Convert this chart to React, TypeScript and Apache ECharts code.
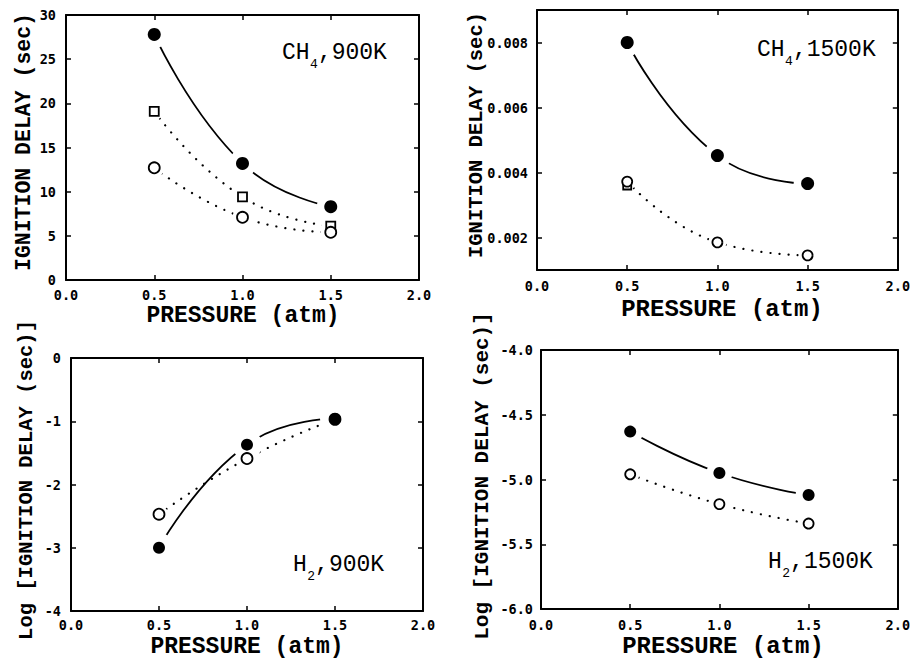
import React, { useEffect, useRef } from "react";
import * as echarts from "echarts";

// ---- data ----
const pressure = [0.5, 1.0, 1.5];
const xTicks = [0, 0.5, 1.0, 1.5, 2.0];

const ch4_900_closed = [27.8, 13.2, 8.3];
const ch4_900_square = [19.1, 9.4, 6.1];
const ch4_900_open = [12.7, 7.1, 5.4];

const ch4_1500_closed = [0.008, 0.00452, 0.00366];
const ch4_1500_open = [0.00372, 0.00185, 0.00145];
const ch4_1500_square = [0.0036, null, null];
const ch4_1500_yTicks = [0.002, 0.004, 0.006, 0.008];

const h2_900_closed = [-3.0, -1.37, -0.96];
const h2_900_open = [-2.47, -1.59, -0.97];

const h2_1500_closed = [-4.63, -4.95, -5.12];
const h2_1500_open = [-4.96, -5.19, -5.34];

const titles = [
  { main: "CH", sub: "4", rest: ",900K" },
  { main: "CH", sub: "4", rest: ",1500K" },
  { main: "H", sub: "2", rest: ",900K" },
  { main: "H", sub: "2", rest: ",1500K" },
];
const xName = "PRESSURE (atm)";
const yNames = [
  "IGNITION DELAY (sec)",
  "IGNITION DELAY (sec)",
  "Log [IGNITION DELAY (sec)]",
  "Log [IGNITION DELAY (sec)]",
];

// ---- layout ----
const grids = [
  { left: 66, top: 15, width: 353, height: 265 },
  { left: 537, top: 10, width: 361, height: 260 },
  { left: 71, top: 358, width: 352, height: 253 },
  { left: 541, top: 350, width: 357, height: 259 },
];
const yRanges = [
  { min: 0, max: 30, interval: 5, fmt: (v: number) => String(v), margin: 10 },
  { min: 0.001, max: 0.009, interval: 0.001, fmt: (v: number) => v.toFixed(3), margin: 9, custom: ch4_1500_yTicks },
  { min: -4, max: 0, interval: 1, fmt: (v: number) => String(v), margin: 10 },
  { min: -6, max: -4, interval: 0.5, fmt: (v: number) => v.toFixed(1), margin: 8 },
];
const xLabelMargin = [8, 9, 7, 9];
const titlePos = [
  { x: 282, y: 52.5, sy: 64, fs: 23 },
  { x: 757, y: 49.5, sy: 61, fs: 23 },
  { x: 293, y: 565, sy: 576, fs: 23 },
  { x: 768, y: 561.5, sy: 573, fs: 23 },
];
const xNamePos = [
  { x: 243, y: 315.5, fs: 23 },
  { x: 722, y: 309.5, fs: 24 },
  { x: 247, y: 646.5, fs: 23 },
  { x: 723, y: 646, fs: 24 },
];
const yNamePos = [
  { x: 24, y: 142, fs: 21.5 },
  { x: 476, y: 135, fs: 20.5 },
  { x: 26, y: 480, fs: 20.5 },
  { x: 482, y: 476, fs: 21 },
];

const MONO = "'Liberation Mono', 'DejaVu Sans Mono', monospace";
const TICKFONT = "'DejaVu Sans Mono', monospace";

function pairs(vals: (number | null)[]) {
  return pressure
    .map((p, i) => (vals[i] == null ? null : [p, vals[i]]))
    .filter((d) => d !== null);
}

function lineSeries(i: number, vals: (number | null)[], dotted: boolean) {
  return {
    type: "line",
    xAxisIndex: 2 * i,
    yAxisIndex: 2 * i,
    data: pairs(vals),
    showSymbol: false,
    smooth: 0.5,
    silent: true,
    z: 2,
    lineStyle: dotted
      ? { color: "#000", width: 2.2, type: [0.1, 9], cap: "round" }
      : { color: "#000", width: 1.8 },
  };
}

function haloSeries(i: number, vals: (number | null)[], size: number) {
  return {
    type: "scatter",
    xAxisIndex: 2 * i,
    yAxisIndex: 2 * i,
    data: pairs(vals),
    symbol: "circle",
    symbolSize: size,
    silent: true,
    z: 3,
    itemStyle: { color: "#fff", opacity: 1 },
  };
}

function markerSeries(
  i: number,
  vals: (number | null)[],
  symbol: string,
  filled: boolean,
  size: number,
  z: number
) {
  return {
    type: "scatter",
    xAxisIndex: 2 * i,
    yAxisIndex: 2 * i,
    data: pairs(vals),
    symbol,
    symbolSize: size,
    silent: true,
    z,
    itemStyle: filled
      ? { color: "#000", opacity: 1 }
      : { color: "#fff", borderColor: "#000", borderWidth: 1.8, opacity: 1 },
  };
}

export default function App() {
  const ref = useRef<HTMLDivElement>(null);

  useEffect(() => {
    if (!ref.current) return;
    const chart = echarts.init(ref.current, null, { renderer: "svg" });

    const axisLine = { show: true, onZero: false, lineStyle: { color: "#000", width: 2 } };
    const tick = { show: true, inside: true, length: 5, lineStyle: { color: "#000", width: 1.5 } };
    const xAxes: any[] = [];
    const yAxes: any[] = [];
    grids.forEach((_, i) => {
      const yr = yRanges[i];
      xAxes.push({
        type: "value",
        gridIndex: i,
        position: "bottom",
        min: xTicks[0],
        max: xTicks[xTicks.length - 1],
        interval: 0.5,
        axisLine,
        splitLine: { show: false },
        axisTick: tick,
        axisLabel: {
          color: "#000",
          fontFamily: TICKFONT,
          fontWeight: "bold",
          fontSize: 13.5,
          margin: xLabelMargin[i],
          formatter: (v: number) => v.toFixed(1),
        },
      });
      xAxes.push({
        type: "value",
        gridIndex: i,
        position: "top",
        min: xTicks[0],
        max: xTicks[xTicks.length - 1],
        interval: 0.5,
        axisLine,
        splitLine: { show: false },
        axisTick: tick,
        axisLabel: { show: false },
      });
      const yTickCfg: any = { ...tick };
      const yLabelCfg: any = {
        color: "#000",
        fontFamily: TICKFONT,
        fontWeight: "bold",
        fontSize: 13.5,
        margin: yr.margin,
        formatter: yr.fmt,
      };
      if (yr.custom) {
        yTickCfg.customValues = yr.custom;
        yLabelCfg.customValues = yr.custom;
      }
      yAxes.push({
        type: "value",
        gridIndex: i,
        position: "left",
        min: yr.min,
        max: yr.max,
        interval: yr.interval,
        axisLine,
        splitLine: { show: false },
        axisTick: yTickCfg,
        axisLabel: yLabelCfg,
      });
      yAxes.push({
        type: "value",
        gridIndex: i,
        position: "right",
        min: yr.min,
        max: yr.max,
        interval: yr.interval,
        axisLine,
        splitLine: { show: false },
        axisTick: { ...yTickCfg },
        axisLabel: { show: false },
      });
    });

    const series: any[] = [
      // panel 1: CH4, 900K
      lineSeries(0, ch4_900_closed, false),
      lineSeries(0, ch4_900_square, true),
      lineSeries(0, ch4_900_open, true),
      haloSeries(0, ch4_900_closed, 28),
      haloSeries(0, ch4_900_open, 20),
      haloSeries(0, ch4_900_square, 18),
      markerSeries(0, ch4_900_square, "rect", false, 9, 4),
      markerSeries(0, ch4_900_open, "circle", false, 11, 4),
      markerSeries(0, ch4_900_closed, "circle", true, 13, 5),
      // panel 2: CH4, 1500K
      lineSeries(1, ch4_1500_closed, false),
      lineSeries(1, ch4_1500_open, true),
      haloSeries(1, ch4_1500_closed, 28),
      haloSeries(1, ch4_1500_open, 18),
      markerSeries(1, ch4_1500_square, "rect", false, 8, 4),
      markerSeries(1, ch4_1500_open, "circle", false, 10, 4),
      markerSeries(1, ch4_1500_closed, "circle", true, 13, 5),
      // panel 3: H2, 900K
      lineSeries(2, h2_900_closed, false),
      lineSeries(2, h2_900_open, true),
      haloSeries(2, h2_900_closed, 30),
      haloSeries(2, h2_900_open, 18),
      markerSeries(2, h2_900_open, "circle", false, 11, 4),
      markerSeries(2, h2_900_closed, "circle", true, 12, 5),
      // panel 4: H2, 1500K
      lineSeries(3, h2_1500_closed, false),
      lineSeries(3, h2_1500_open, true),
      haloSeries(3, h2_1500_closed, 26),
      haloSeries(3, h2_1500_open, 18),
      markerSeries(3, h2_1500_open, "circle", false, 10, 4),
      markerSeries(3, h2_1500_closed, "circle", true, 12, 5),
    ];

    const graphics: any[] = [];
    titles.forEach((t, i) => {
      const p = titlePos[i];
      const cw = p.fs * 0.6;
      const subFs = 13;
      const mainW = t.main.length * cw;
      graphics.push({
        type: "text",
        x: p.x,
        y: p.y,
        silent: true,
        style: { text: t.main, fontFamily: MONO, fontSize: p.fs, fill: "#000", textAlign: "left", textVerticalAlign: "middle" },
      });
      graphics.push({
        type: "text",
        x: p.x + mainW + 0.5,
        y: p.sy,
        silent: true,
        style: { text: t.sub, fontFamily: MONO, fontSize: subFs, fill: "#000", textAlign: "left", textVerticalAlign: "middle" },
      });
      graphics.push({
        type: "text",
        x: p.x + mainW + 0.5 + subFs * 0.6,
        y: p.y,
        silent: true,
        style: { text: t.rest, fontFamily: MONO, fontSize: p.fs, fill: "#000", textAlign: "left", textVerticalAlign: "middle" },
      });
    });
    xNamePos.forEach((p) => {
      graphics.push({
        type: "text",
        x: p.x,
        y: p.y,
        silent: true,
        style: { text: xName, fontFamily: MONO, fontWeight: "bold", fontSize: p.fs, fill: "#000", textAlign: "center", textVerticalAlign: "middle" },
      });
    });
    yNamePos.forEach((p, i) => {
      graphics.push({
        type: "text",
        x: p.x,
        y: p.y,
        rotation: Math.PI / 2,
        silent: true,
        style: { text: yNames[i], fontFamily: MONO, fontWeight: "bold", fontSize: p.fs, fill: "#000", textAlign: "center", textVerticalAlign: "middle" },
      });
    });

    chart.setOption({
      animation: false,
      backgroundColor: "#fff",
      grid: grids.map((g) => ({ ...g, containLabel: false })),
      xAxis: xAxes,
      yAxis: yAxes,
      series,
      graphic: graphics,
    });

    return () => chart.dispose();
  }, []);

  return (
    <div
      ref={ref}
      style={{ position: "fixed", left: 0, top: 0, width: 913, height: 659, background: "#fff" }}
    />
  );
}
